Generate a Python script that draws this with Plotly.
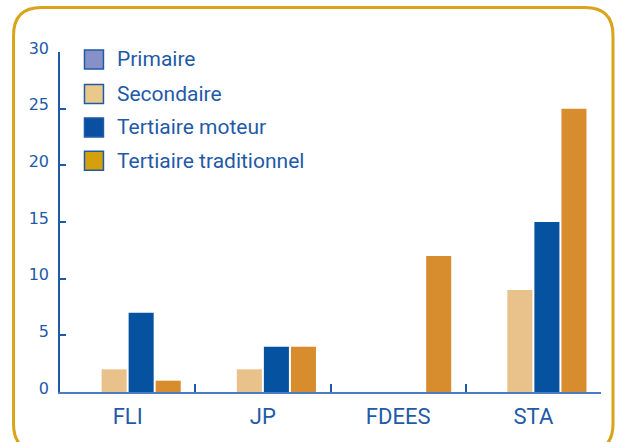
import plotly.graph_objects as go

categories = ["FLI", "JP", "FDEES", "STA"]
series_names = ["Primaire", "Secondaire", "Tertiaire moteur", "Tertiaire traditionnel"]
primaire = [0, 0, 0, 0]
secondaire = [2, 2, 0, 9]
tertiaire_moteur = [7, 4, 0, 15]
tertiaire_traditionnel = [1, 4, 12, 25]
series_values = [primaire, secondaire, tertiaire_moteur, tertiaire_traditionnel]
bar_colors = ["#8890C8", "#E9C18B", "#0553A0", "#D78D2D"]
legend_colors = ["#8890C8", "#EAC88A", "#0A4FA0", "#D4A00C"]
y_ticks = [0, 5, 10, 15, 20, 25, 30]

W, H = 619, 442
L, R, T, B = 59.5, 601, 51.5, 392

def px(x):
    return (x - L) / (R - L)

def py(y):
    return (B - y) / (B - T)

fig = go.Figure()
for name, vals, col in zip(series_names, series_values, bar_colors):
    fig.add_trace(go.Bar(x=categories, y=vals, name=name, marker_color=col,
                         marker_line_width=0, showlegend=False))

blue = "#1F5AA8"
shapes = []
annotations = []

# rounded frame
x0, x1, y0, y1, r = 13, 613, 7, 452, 28
path = (f"M {px(x0)},{py(y0 + r)} Q {px(x0)},{py(y0)} {px(x0 + r)},{py(y0)} "
        f"L {px(x1 - r)},{py(y0)} Q {px(x1)},{py(y0)} {px(x1)},{py(y0 + r)} "
        f"L {px(x1)},{py(y1 - r)} Q {px(x1)},{py(y1)} {px(x1 - r)},{py(y1)} "
        f"L {px(x0 + r)},{py(y1)} Q {px(x0)},{py(y1)} {px(x0)},{py(y1 - r)} Z")
shapes.append(dict(type="path", xref="paper", yref="paper", path=path,
                   line=dict(color="#D9A41A", width=3), fillcolor="rgba(0,0,0,0)"))

# manual legend
row_centers = [59, 93.5, 127, 160.5]
for name, col, cy in zip(series_names, legend_colors, row_centers):
    shapes.append(dict(type="rect", xref="paper", yref="paper",
                       x0=px(84), x1=px(103), y0=py(cy + 9.5), y1=py(cy - 9.5),
                       fillcolor=col, line=dict(color=blue, width=1.5)))
    annotations.append(dict(xref="paper", yref="paper", x=px(115), y=py(cy),
                            xanchor="left", yanchor="middle", showarrow=False,
                            text=name, font=dict(family="Roboto", size=21, color=blue)))

fig.update_layout(
    width=W, height=H,
    margin=dict(l=L, r=W - R, t=T, b=H - B, pad=0),
    paper_bgcolor="white", plot_bgcolor="white",
    barmode="group", bargap=0.2, bargroupgap=0.074,
    shapes=shapes, annotations=annotations,
    showlegend=False,
    xaxis=dict(showgrid=False, showline=True, linecolor="#4A7CC0", linewidth=2,
               ticks="inside", tickson="boundaries", ticklen=8, tickwidth=1.5,
               tickcolor=blue, zeroline=False,
               tickfont=dict(family="Roboto", size=22, color=blue),
               ticklabelstandoff=4),
    yaxis=dict(range=[0, 30], tickvals=y_ticks, showgrid=False, showline=True,
               linecolor=blue, linewidth=1.5, ticks="inside", ticklen=6,
               tickwidth=1.5, tickcolor=blue, zeroline=False,
               tickfont=dict(family="DejaVu Sans", size=16, color=blue),
               ticklabelstandoff=6, ticklabelshift=-4),
)

fig.write_html("out.html", config={"displayModeBar": False},
               post_script="document.body.style.margin='0';document.body.style.padding='0';document.body.style.overflow='hidden';")
